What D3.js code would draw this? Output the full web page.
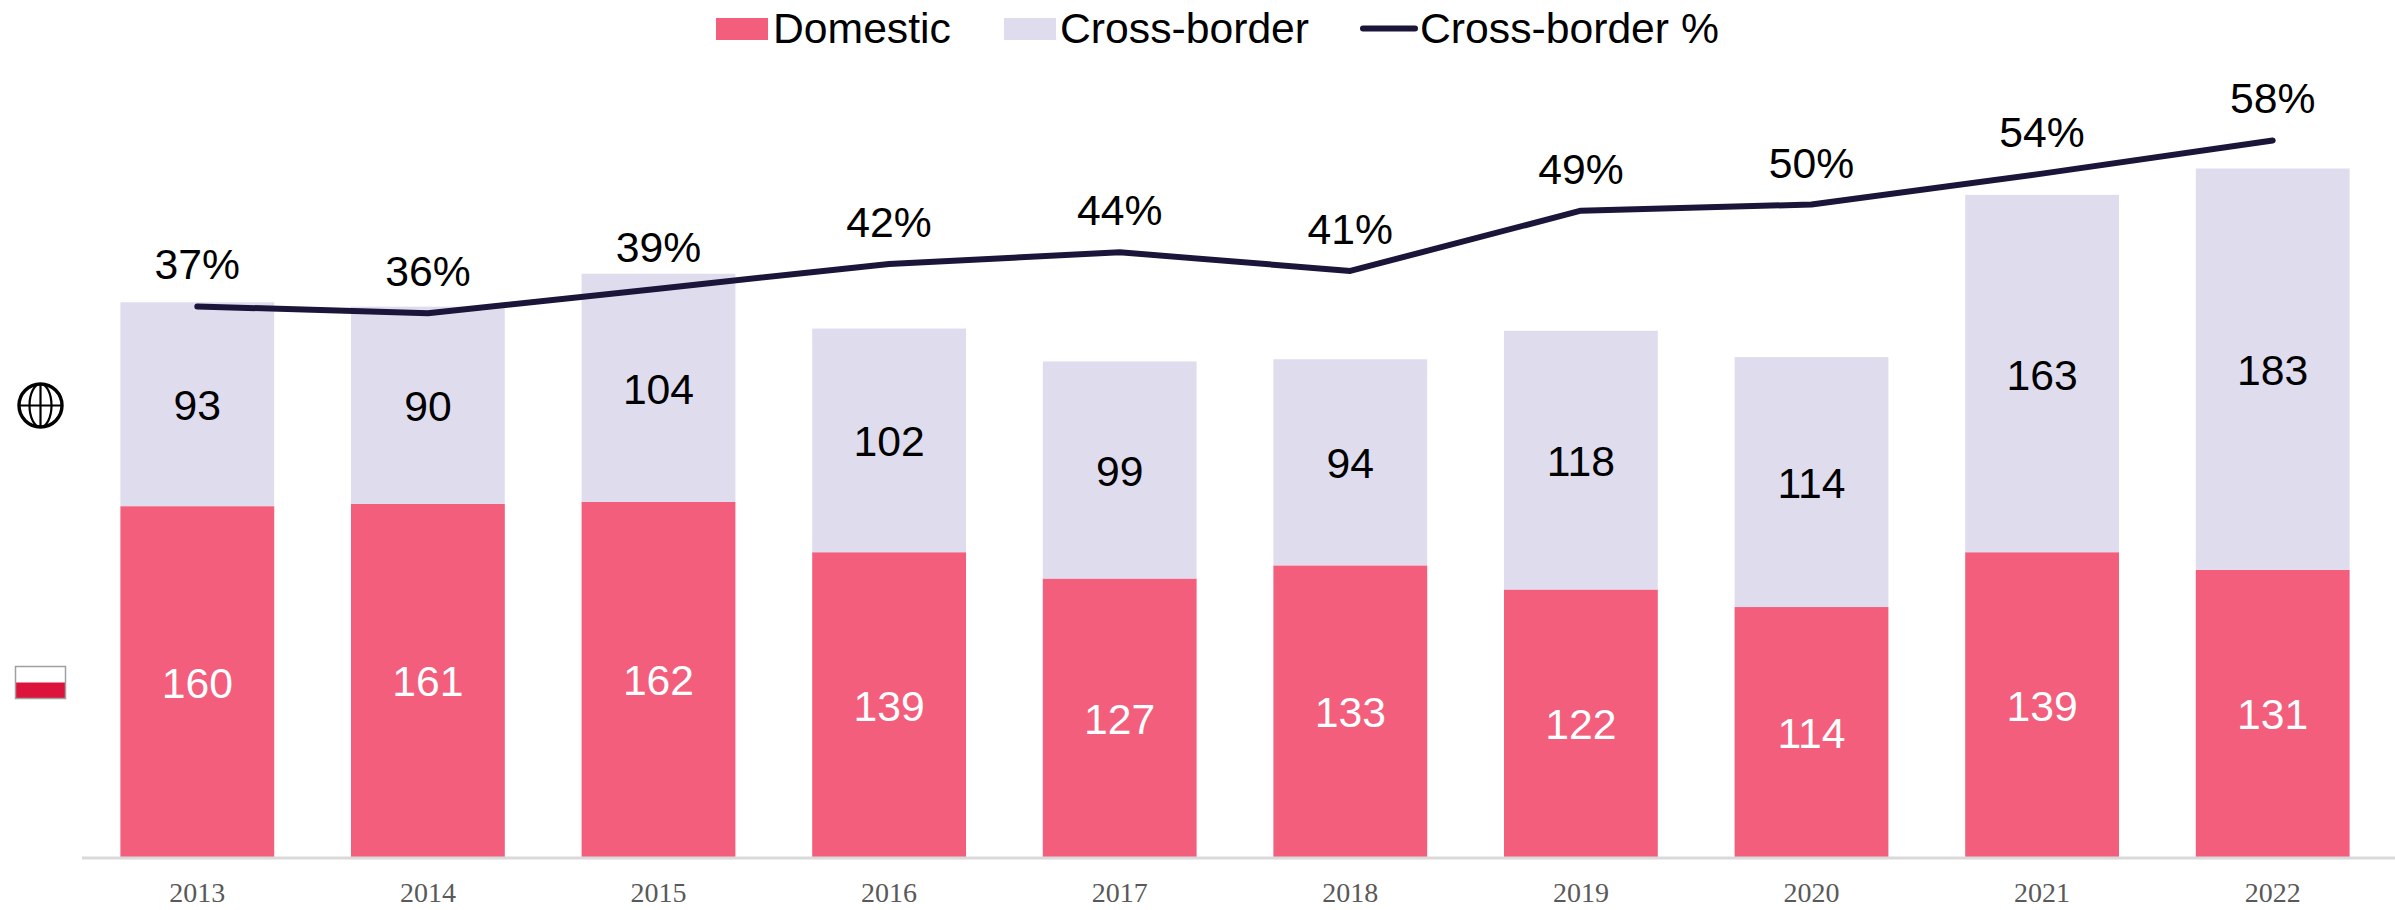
<!DOCTYPE html>
<html><head><meta charset="utf-8">
<script src="https://cdn.jsdelivr.net/npm/d3@7"></script>
<style>html,body{margin:0;padding:0;background:#fff}svg{display:block}text{font-family:"Liberation Sans",Arial,sans-serif}</style>
</head><body><svg id="c" width="2395" height="910"></svg>
<script>
const years = ["2013","2014","2015","2016","2017","2018","2019","2020","2021","2022"];
const domestic = [160,161,162,139,127,133,122,114,139,131];
const crossBorder = [93,90,104,102,99,94,118,114,163,183];
const crossPct = [36.8,35.9,39.1,42.3,43.8,41.4,49.2,50.0,54.0,58.3];
const pctLabels = ["37%","36%","39%","42%","44%","41%","49%","50%","54%","58%"];
const legendNames = ["Domestic","Cross-border","Cross-border %"];
const colors = {dom:"#F35E7C",cross:"#DFDCEE",line:"#1B1539"};

const svg = d3.select("#c");
const x = d3.scaleBand().domain(years).range([82,2388]).paddingInner(0.333).paddingOuter(0.1665);
const y = d3.scaleLinear().domain([0,314]).range([857,168.5]);
const yPct = d3.scaleLinear().domain([0,100]).range([590.5,-181.5]);
const rows = years.map((yr,i)=>({yr,d:domestic[i],c:crossBorder[i],p:crossPct[i],l:pctLabels[i]}));

svg.selectAll("rect.dom").data(rows).join("rect").attr("class","dom")
  .attr("x",r=>x(r.yr)).attr("width",x.bandwidth()).attr("y",r=>y(r.d)).attr("height",r=>y(0)-y(r.d)).attr("fill",colors.dom);
svg.selectAll("rect.cross").data(rows).join("rect").attr("class","cross")
  .attr("x",r=>x(r.yr)).attr("width",x.bandwidth()).attr("y",r=>y(r.d+r.c)).attr("height",r=>y(r.d)-y(r.d+r.c)).attr("fill",colors.cross);

const cx = r=>x(r.yr)+x.bandwidth()/2;
svg.selectAll("text.ld").data(rows).join("text").attr("class","ld")
  .attr("x",cx).attr("y",r=>y(r.d/2)+16).attr("text-anchor","middle").attr("font-size",42.7).attr("fill","#fff").text(r=>r.d);
svg.selectAll("text.lc").data(rows).join("text").attr("class","lc")
  .attr("x",cx).attr("y",r=>y(r.d+r.c/2)+16).attr("text-anchor","middle").attr("font-size",42.7).attr("fill","#000").text(r=>r.c);

// x axis
const axis = svg.append("g").attr("transform","translate(0,858)").call(d3.axisBottom(x).tickSize(0).tickPadding(24));
axis.select(".domain").attr("stroke","#D9D9D9").attr("stroke-width",3).attr("d","M82,0H2395");
axis.selectAll("text").attr("font-size",28).attr("fill","#595959").style("font-family",'"Liberation Serif",serif');

// line
svg.append("path").datum(rows).attr("fill","none").attr("stroke",colors.line).attr("stroke-width",6).attr("stroke-linecap","round").attr("stroke-linejoin","round")
  .attr("d",d3.line().x(cx).y(r=>yPct(r.p)));
svg.selectAll("text.lp").data(rows).join("text").attr("class","lp")
  .attr("x",cx).attr("y",r=>yPct(r.p)-27).attr("text-anchor","middle").attr("font-size",42.7).attr("fill","#000").text(r=>r.l);

// legend
const lg = svg.append("g").attr("font-size",42.7).attr("fill","#000");
lg.append("rect").attr("x",716).attr("y",18).attr("width",52).attr("height",22).attr("fill",colors.dom);
lg.append("text").attr("x",773).attr("y",42.5).text(legendNames[0]);
lg.append("rect").attr("x",1004).attr("y",18).attr("width",52).attr("height",22).attr("fill",colors.cross);
lg.append("text").attr("x",1060).attr("y",42.5).text(legendNames[1]);
lg.append("line").attr("x1",1363).attr("x2",1415).attr("y1",28.5).attr("y2",28.5).attr("stroke",colors.line).attr("stroke-width",6).attr("stroke-linecap","round");
lg.append("text").attr("x",1420).attr("y",42.5).text(legendNames[2]);

// globe icon
const g = svg.append("g").attr("transform","translate(40.5,405.5)").attr("fill","none").attr("stroke","#000");
g.append("circle").attr("r",21.5).attr("stroke-width",3.4);
g.append("ellipse").attr("rx",11).attr("ry",21.5).attr("stroke-width",2.2);
g.append("line").attr("y1",-21.5).attr("y2",21.5).attr("stroke-width",2.2);
g.append("line").attr("x1",-21.5).attr("x2",21.5).attr("stroke-width",2.2);

// flag icon
const f = svg.append("g");
f.append("rect").attr("x",15.5).attr("y",666.5).attr("width",50).attr("height",16).attr("fill","#fff");
f.append("rect").attr("x",15.5).attr("y",682.5).attr("width",50).attr("height",16).attr("fill","#DC143C");
f.append("rect").attr("x",15.5).attr("y",666.5).attr("width",50).attr("height",32).attr("fill","none").attr("stroke","#A0A0A0").attr("stroke-width",1.5);
</script></body></html>
